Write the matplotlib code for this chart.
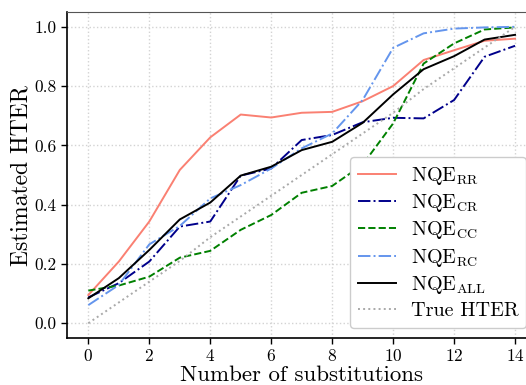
import numpy as np
import matplotlib
matplotlib.use("Agg")
import matplotlib.pyplot as plt

plt.rcParams["font.family"] = ["cmr10", "DejaVu Serif"]
plt.rcParams["mathtext.fontset"] = "cm"
plt.rcParams["axes.formatter.use_mathtext"] = True

substitutions = list(range(15))

nqe_rr = [0.095, 0.208, 0.343, 0.517, 0.627, 0.704, 0.694, 0.71, 0.713,
          0.749, 0.80, 0.888, 0.921, 0.953, 0.96]
nqe_cr = [0.087, 0.135, 0.208, 0.326, 0.343, 0.498, 0.522, 0.618, 0.635,
          0.678, 0.693, 0.691, 0.753, 0.899, 0.936]
nqe_cc = [0.11, 0.127, 0.157, 0.221, 0.244, 0.315, 0.365, 0.44, 0.463,
          0.535, 0.674, 0.876, 0.944, 0.991, 0.998]
nqe_rc = [0.061, 0.129, 0.266, 0.328, 0.421, 0.466, 0.522, 0.59, 0.64,
          0.753, 0.929, 0.978, 0.994, 0.998, 1.0]
nqe_all = [0.084, 0.152, 0.247, 0.35, 0.407, 0.498, 0.528, 0.584, 0.612,
           0.676, 0.772, 0.857, 0.901, 0.957, 0.973]
true_hter = [0.0, 0.07, 0.14, 0.21, 0.29, 0.36, 0.43, 0.5, 0.57, 0.64,
             0.71, 0.79, 0.86, 0.93, 1.0]

W, H = 526, 385
fig = plt.figure(figsize=(W / 100, H / 100), dpi=100)
ax = fig.add_axes([67 / W, (H - 338) / H, 469.4 / W, 326 / H])

ax.plot(substitutions, nqe_rr, color="salmon", lw=1.4, label=r"NQE$_{\rm RR}$")
ax.plot(substitutions, nqe_cr, color="darkblue", lw=1.4, ls="-.", label=r"NQE$_{\rm CR}$")
ax.plot(substitutions, nqe_cc, color="green", lw=1.4, ls="--", label=r"NQE$_{\rm CC}$")
ax.plot(substitutions, nqe_rc, color="cornflowerblue", lw=1.4, ls="-.", label=r"NQE$_{\rm RC}$")
ax.plot(substitutions, nqe_all, color="black", lw=1.4, label=r"NQE$_{\rm ALL}$")
ax.plot(substitutions, true_hter, color="darkgray", lw=1.4, ls=":", label="True HTER")

ax.set_xlim(-0.7, 14.7)
ax.set_ylim(-0.05, 1.05)
ax.set_xticks(range(0, 15, 2))
ax.set_yticks(np.arange(0, 1.01, 0.2))
ax.yaxis.set_major_formatter(matplotlib.ticker.FormatStrFormatter("%.1f"))
ax.tick_params(labelsize=12.5, length=4, width=1, color="black")
ax.grid(True, ls=":", color="lightgray", lw=1)
for s in ax.spines.values():
    s.set_color("black")
    s.set_linewidth(1.2)
ax.spines["top"].set_color("#555555")
ax.spines["top"].set_linewidth(0.8)

ax.set_xlabel("Number of substitutions", fontsize=16.5, labelpad=1)
ax.set_ylabel("Estimated HTER", fontsize=17, labelpad=1)
ax.legend(loc="lower right", fontsize=14.5, handlelength=1.9, handletextpad=0.7,
          labelspacing=0.27, borderpad=0.4, framealpha=1.0)

fig.savefig("out.png", dpi=100, facecolor="white")
